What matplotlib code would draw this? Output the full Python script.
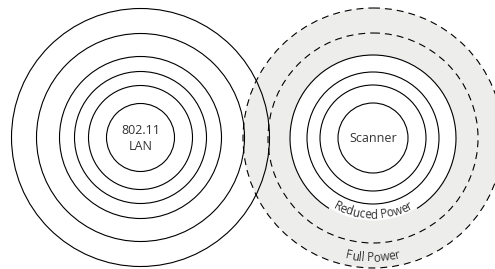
import numpy as np
import matplotlib
matplotlib.use("Agg")
import matplotlib.pyplot as plt
from matplotlib.patches import Circle, Arc

plt.rcParams['font.family'] = ['Open Sans', 'DejaVu Sans']
plt.rcParams['lines.scale_dashes'] = False

# ==========================================
# data
# ==========================================
lan_center = (140.5, 137.5)
lan_radii = [129, 104, 81, 66, 52, 34]
lan_label = "802.11\nLAN"

scanner_center = (373, 138)
scanner_radii = [83, 66, 53, 35]
scanner_label = "Scanner"

power_radii = [105, 130]                  # dashed rings
power_labels = ["Reduced Power", "Full Power"]
label_radii = [80.5, 123.5]               # baseline of the curved labels

gray = '#ededeb'
txt_color = '#333333'
lw = 0.8

# ==========================================
# figure
# ==========================================
fig = plt.figure(figsize=(4.95, 2.69), dpi=100)
ax = fig.add_axes([0, 0, 1, 1])
ax.set_xlim(0, 495)
ax.set_ylim(269, 0)
ax.set_aspect('equal')
ax.axis('off')

cx, cy = scanner_center
# gray area up to the full power ring, white inside the scanner rings
ax.add_patch(Circle(scanner_center, max(power_radii), facecolor=gray, edgecolor='none', zorder=1))
ax.add_patch(Circle(scanner_center, scanner_radii[0] - 0.5, facecolor='white', edgecolor='none', zorder=2))

for r in power_radii:
    ax.add_patch(Circle(scanner_center, r, fill=False, edgecolor='black', lw=lw,
                        linestyle=(0, (5, 3.6)), zorder=3))

# outer scanner ring is broken where the "Reduced Power" label sits
ax.add_patch(Arc(scanner_center, 2 * scanner_radii[0], 2 * scanner_radii[0],
                 theta1=122, theta2=418, edgecolor='black', lw=lw, zorder=3))
for r in scanner_radii[1:]:
    ax.add_patch(Circle(scanner_center, r, fill=False, edgecolor='black', lw=lw, zorder=3))

for r in lan_radii:
    ax.add_patch(Circle(lan_center, r, fill=False, edgecolor='black', lw=lw, zorder=3))

ax.text(lan_center[0], lan_center[1] + 1, lan_label, ha='center', va='center',
        fontsize=9, color=txt_color, linespacing=1.25, zorder=4)
ax.text(cx, cy, scanner_label, ha='center', va='center', fontsize=9, color=txt_color, zorder=4)

# ==========================================
# curved labels along the bottom of the rings
# ==========================================
renderer = fig.canvas.get_renderer()


def text_width(s, fs):
    t = ax.text(0, 0, s + '|', fontsize=fs)
    w = t.get_window_extent(renderer).width
    t.remove()
    return w


def curved_text(s, r, fs):
    base = text_width('', fs)
    total = text_width(s, fs) - base
    for i, ch in enumerate(s):
        if ch == ' ':
            continue
        s0 = text_width(s[:i], fs) - base
        s1 = text_width(s[:i + 1], fs) - base
        phi = ((s0 + s1) / 2 - total / 2) / r
        x = cx + r * np.sin(phi)
        y = cy + r * np.cos(phi)
        ax.text(x, y, ch, fontsize=fs, color=txt_color, ha='center', va='baseline',
                rotation=np.degrees(phi), rotation_mode='anchor', zorder=4)


for lab, r in zip(power_labels, label_radii):
    curved_text(lab, r, 8.5)

fig.savefig('out.png', dpi=100)
